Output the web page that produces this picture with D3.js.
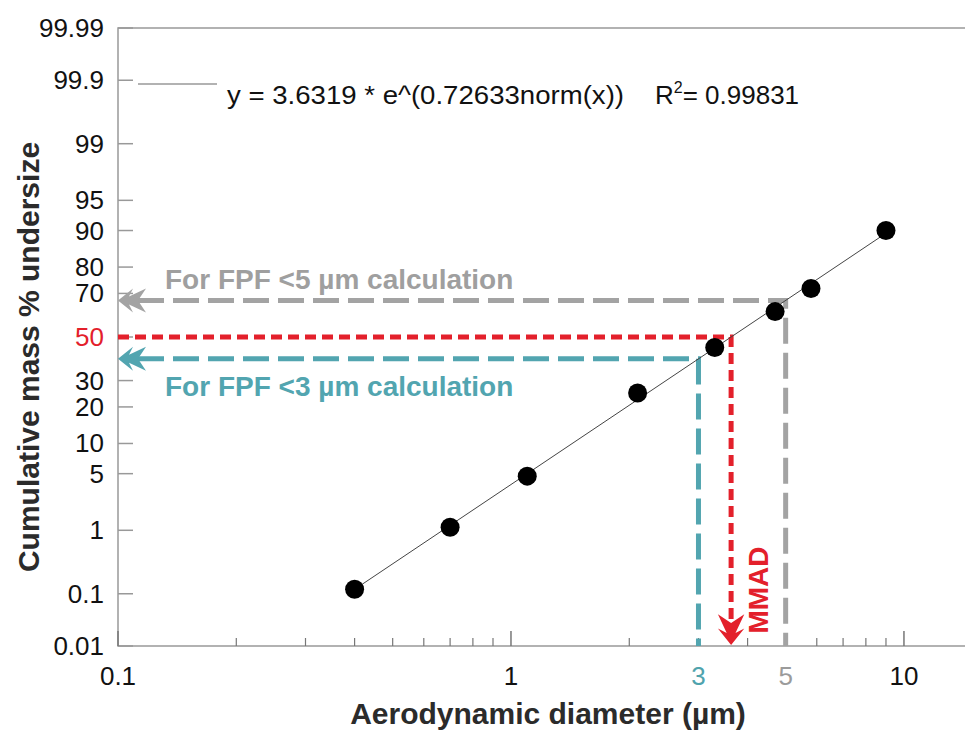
<!DOCTYPE html>
<html>
<head>
<meta charset="utf-8">
<script src="https://cdn.jsdelivr.net/npm/d3@7"></script>
<style>
  body { margin: 0; background: #fff; }
  svg { display: block; font-family: "Liberation Sans", Arial, sans-serif; }
</style>
</head>
<body>
<svg id="chart" width="965" height="731"></svg>
<script>
// measured data: stage cut-off diameters (µm) and cumulative mass % undersize
const sizes = [0.4, 0.7, 1.1, 2.1, 3.3, 4.7, 5.8, 9.0];
const cumPct = [0.12, 1.1, 4.7, 25, 45, 62, 72, 90];

// log-normal fit printed on the chart
const fitA = 3.6319;
const fitB = 0.72633;
const fitRange = [0.4, 9.0];

const yTickVals = [0.01, 0.1, 1, 5, 10, 20, 30, 50, 70, 80, 90, 95, 99, 99.9, 99.99];
const xMajor = [0.1, 1, 10];
const xLabels = [0.1, 1, 3, 5, 10];
const xLabelColors = { 3: "#4fa3ad", 5: "#9b9b9b" };

const grey = "#a3a3a3", teal = "#52a5b0", red = "#e3202b";

// inverse normal cdf (Acklam)
function probit(p) {
  const a = [-39.69683028665376, 220.9460984245205, -275.9285104469687, 138.357751867269, -30.66479806614716, 2.506628277459239];
  const b = [-54.47609879822406, 161.5858368580409, -155.6989798598866, 66.80131188771972, -13.28068155288572];
  const c = [-0.007784894002430293, -0.3223964580411365, -2.400758277161838, -2.549732539343734, 4.374664141464968, 2.938163982698783];
  const d = [0.007784695709041462, 0.3224671290700398, 2.445134137142996, 3.754408661907416];
  const pl = 0.02425;
  let q, r;
  if (p < pl) {
    q = Math.sqrt(-2 * Math.log(p));
    return (((((c[0]*q+c[1])*q+c[2])*q+c[3])*q+c[4])*q+c[5]) / ((((d[0]*q+d[1])*q+d[2])*q+d[3])*q+1);
  } else if (p <= 1 - pl) {
    q = p - 0.5; r = q * q;
    return (((((a[0]*r+a[1])*r+a[2])*r+a[3])*r+a[4])*r+a[5])*q / (((((b[0]*r+b[1])*r+b[2])*r+b[3])*r+b[4])*r+1);
  }
  q = Math.sqrt(-2 * Math.log(1 - p));
  return -(((((c[0]*q+c[1])*q+c[2])*q+c[3])*q+c[4])*q+c[5]) / ((((d[0]*q+d[1])*q+d[2])*q+d[3])*q+1);
}

const fitZ = (v) => Math.log(v / fitA) / fitB;

const mLeft = 118, mTop = 28, mBottom = 646, mRight = 965;
const svg = d3.select("#chart");

const x = d3.scaleLog().domain([0.1, 14.3]).range([mLeft, mRight]);
const yz = d3.scaleLinear().domain([probit(0.0001), probit(0.9999)]).range([mBottom, mTop]);
const y = (p) => yz(probit(p / 100));

// frame
svg.append("path")
  .attr("d", `M${mRight},${mTop}H${mLeft}V${mBottom}H${mRight}`)
  .attr("fill", "none").attr("stroke", "#999").attr("stroke-width", 1.5);

// y ticks
svg.append("g").selectAll("line").data(yTickVals).join("line")
  .attr("x1", mLeft).attr("x2", mLeft + 15)
  .attr("y1", (d) => y(d)).attr("y2", (d) => y(d))
  .attr("stroke", "#999").attr("stroke-width", 1.5);

svg.append("g").selectAll("text").data(yTickVals).join("text")
  .attr("x", 104).attr("y", (d) => y(d) + 9)
  .attr("text-anchor", "end")
  .attr("font-size", 26)
  .attr("fill", (d) => (d === 50 ? red : "#111"))
  .text((d) => d);

// x ticks (major + minor)
const xMinor = [];
xMajor.forEach((dec) => { for (let k = 2; k <= 9; k++) if (dec * k <= 14.3) xMinor.push(dec * k); });
svg.append("g").selectAll("line").data(xMinor).join("line")
  .attr("x1", (d) => x(d)).attr("x2", (d) => x(d))
  .attr("y1", mBottom).attr("y2", mBottom - 8)
  .attr("stroke", "#777").attr("stroke-width", 1.2);
svg.append("g").selectAll("line").data(xMajor).join("line")
  .attr("x1", (d) => x(d)).attr("x2", (d) => x(d))
  .attr("y1", mBottom).attr("y2", mBottom - 15)
  .attr("stroke", "#777").attr("stroke-width", 1.5);

svg.append("g").selectAll("text").data(xLabels).join("text")
  .attr("x", (d) => x(d)).attr("y", 685)
  .attr("text-anchor", "middle").attr("font-size", 26)
  .attr("fill", (d) => xLabelColors[d] || "#111")
  .text((d) => d);

// axis titles
svg.append("text")
  .attr("transform", "translate(28,357) rotate(-90)")
  .attr("text-anchor", "middle").attr("dominant-baseline", "central")
  .attr("font-size", 30).attr("font-weight", "bold").attr("fill", "#2b2b2b")
  .text("Cumulative mass % undersize");

svg.append("text")
  .attr("x", 548).attr("y", 724).attr("text-anchor", "middle")
  .attr("font-size", 30).attr("font-weight", "bold").attr("fill", "#2b2b2b")
  .text("Aerodynamic diameter (µm)");

// arrowhead, pointing left with tip at origin
const arrowPath = "M0,0L15,-12L11,-4L28,-12L20,0L28,12L11,4L15,12Z";

// guide lines for FPF <5 and <3
const guides = [
  { d: 5, color: grey },
  { d: 3, color: teal }
];
guides.forEach((g) => {
  const gy = yz(fitZ(g.d));
  svg.append("path")
    .attr("d", `M${mLeft + 20},${gy}H${x(g.d)}V${mBottom}`)
    .attr("fill", "none").attr("stroke", g.color)
    .attr("stroke-width", 5).attr("stroke-dasharray", "26,9");
  svg.append("path").attr("d", arrowPath)
    .attr("transform", `translate(${mLeft},${gy})`)
    .attr("fill", g.color);
});

// MMAD guide
svg.append("path")
  .attr("d", `M${mLeft},${y(50)}H${x(fitA)}V${mBottom - 22}`)
  .attr("fill", "none").attr("stroke", red)
  .attr("stroke-width", 5).attr("stroke-dasharray", "11,6");
svg.append("path").attr("d", arrowPath)
  .attr("transform", `translate(${x(fitA)},${mBottom - 1}) rotate(-90) scale(1.1)`)
  .attr("fill", red);

svg.append("text")
  .attr("transform", `translate(${x(fitA) + 27},590) rotate(-90)`)
  .attr("text-anchor", "middle").attr("dominant-baseline", "central")
  .attr("font-size", 28).attr("font-weight", "bold").attr("fill", red)
  .text("MMAD");

svg.append("text").attr("x", 165).attr("y", 289)
  .attr("font-size", 28).attr("font-weight", "bold").attr("fill", "#9f9f9f")
  .text("For FPF <5 µm calculation");
svg.append("text").attr("x", 165).attr("y", 396)
  .attr("font-size", 28).attr("font-weight", "bold").attr("fill", teal)
  .text("For FPF <3 µm calculation");

// fit line
svg.append("line")
  .attr("x1", x(fitRange[0])).attr("y1", yz(fitZ(fitRange[0])))
  .attr("x2", x(fitRange[1])).attr("y2", yz(fitZ(fitRange[1])))
  .attr("stroke", "#444").attr("stroke-width", 1);

// data points
svg.append("g").selectAll("circle").data(sizes).join("circle")
  .attr("cx", (d) => x(d)).attr("cy", (d, i) => y(cumPct[i]))
  .attr("r", 9.5).attr("fill", "#000");

// legend
svg.append("line").attr("x1", 138).attr("x2", 217).attr("y1", 84).attr("y2", 84)
  .attr("stroke", "#666").attr("stroke-width", 1.2);
svg.append("text").attr("x", 227).attr("y", 104)
  .attr("font-size", 26).attr("fill", "#111")
  .attr("textLength", 397).attr("lengthAdjust", "spacingAndGlyphs")
  .text(`y = ${fitA} * e^(${fitB}norm(x))`);
const r2 = svg.append("text").attr("x", 655).attr("y", 104)
  .attr("font-size", 26).attr("fill", "#111");
r2.append("tspan").text("R");
r2.append("tspan").attr("font-size", 16).attr("dy", -11).text("2");
r2.append("tspan").attr("dy", 11).text("= 0.99831");
</script>
</body>
</html>
